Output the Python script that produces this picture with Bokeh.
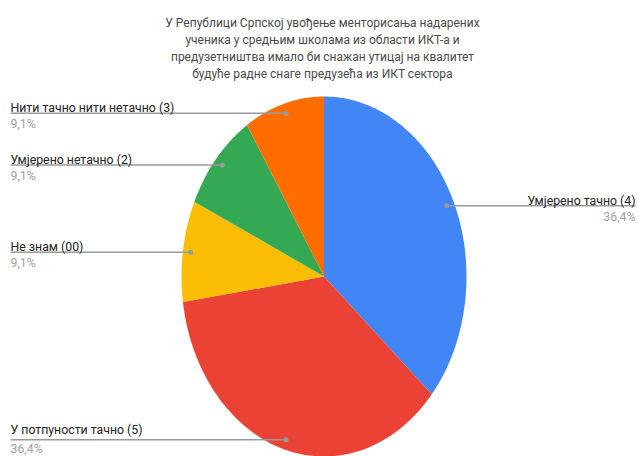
import numpy as np
from bokeh.plotting import figure
from bokeh.models import Range1d, ColumnDataSource
from bokeh.core.properties import value
from bokeh.embed import file_html
from bokeh.resources import INLINE

# ---- data ----
TITLE_LINES = [
    "У Републици Српској увођење менторисања надарених",
    "ученика у средњим школама из области ИКТ-а и",
    "предузетништва имало би снажан утицај на квалитет",
    "будуће радне снаге предузећа из ИКТ сектора",
]
categories = [
    "Умјерено тачно (4)",
    "У потпуности тачно (5)",
    "Не знам (00)",
    "Умјерено нетачно (2)",
    "Нити тачно нити нетачно (3)",
]
counts = [4, 4, 1, 1, 1]
colors = ["#4285F4", "#EA4335", "#FBBC04", "#34A853", "#FF6D01"]

# ---- layout ----
W, H = 639, 456
CX, CY = 323.5, 276.0
RX, RY = 142.5, 180.0
DOT_R = 0.945
FONT = "Roboto"

p = figure(width=W, height=H, output_backend="svg", toolbar_location=None,
           x_range=Range1d(0, W), y_range=Range1d(H, 0),
           min_border=0, outline_line_color=None)
p.axis.visible = False
p.grid.visible = False
p.background_fill_color = "white"
p.border_fill_color = "white"

total = float(sum(counts))
fracs = np.array(counts) / total
ends = np.cumsum(fracs) * 2 * np.pi
starts = ends - fracs * 2 * np.pi

xs, ys = [], []
for a0, a1 in zip(starts, ends):
    t = np.linspace(a0, a1, 120)
    xs.append([CX] + list(CX + RX * np.sin(t)) + [CX])
    ys.append([CY] + list(CY - RY * np.cos(t)) + [CY])
p.patches(xs, ys, fill_color=colors, line_color=None)

# leader dots & lines
mids = (starts + ends) / 2
dx = CX + DOT_R * RX * np.sin(mids)
dy = CY - DOT_R * RY * np.cos(mids)
right = dx > CX
LEFT_X, RIGHT_X = 10, 635
line_x0 = np.where(right, dx, LEFT_X)
line_x1 = np.where(right, RIGHT_X, dx)
p.segment(x0=line_x0, y0=dy, x1=line_x1, y1=dy, line_color="#9a9a9a", line_width=1.5)
p.scatter(dx, dy, size=5, fill_color="#9a9a9a", line_color=None)

pct = ["{:.1f}%".format(f * 100).replace(".", ",") for f in fracs]
lab_x = np.where(right, RIGHT_X, LEFT_X)
align = ["right" if r else "left" for r in right]
lab_y = [y - 5 for y in dy]
lab_y[1] = dy[1] - 10
pct_y = [y + 4 for y in dy]
pct_y[1] = dy[1] + 2.5

src = ColumnDataSource(dict(x=lab_x, ly=lab_y, py=pct_y, lab=categories, pct=pct, align=align))
p.text(x="x", y="ly", text="lab", text_align="align", text_baseline="alphabetic",
       text_font=value(FONT), text_font_size="12.3px", text_color="#222222", source=src)
p.text(x="x", y="py", text="pct", text_align="align", text_baseline="top",
       text_font=value(FONT), text_font_size="12.3px", text_color="#a0a0a0", source=src)

# title
title_y = [22, 39.5, 56.5, 73]
p.text(x=[322] * 4, y=title_y, text=TITLE_LINES, text_align="center", text_baseline="middle",
       text_font=value(FONT), text_font_size="12px", text_color="#4a4a4a")

open("out.html", "w").write(file_html(p, INLINE))
